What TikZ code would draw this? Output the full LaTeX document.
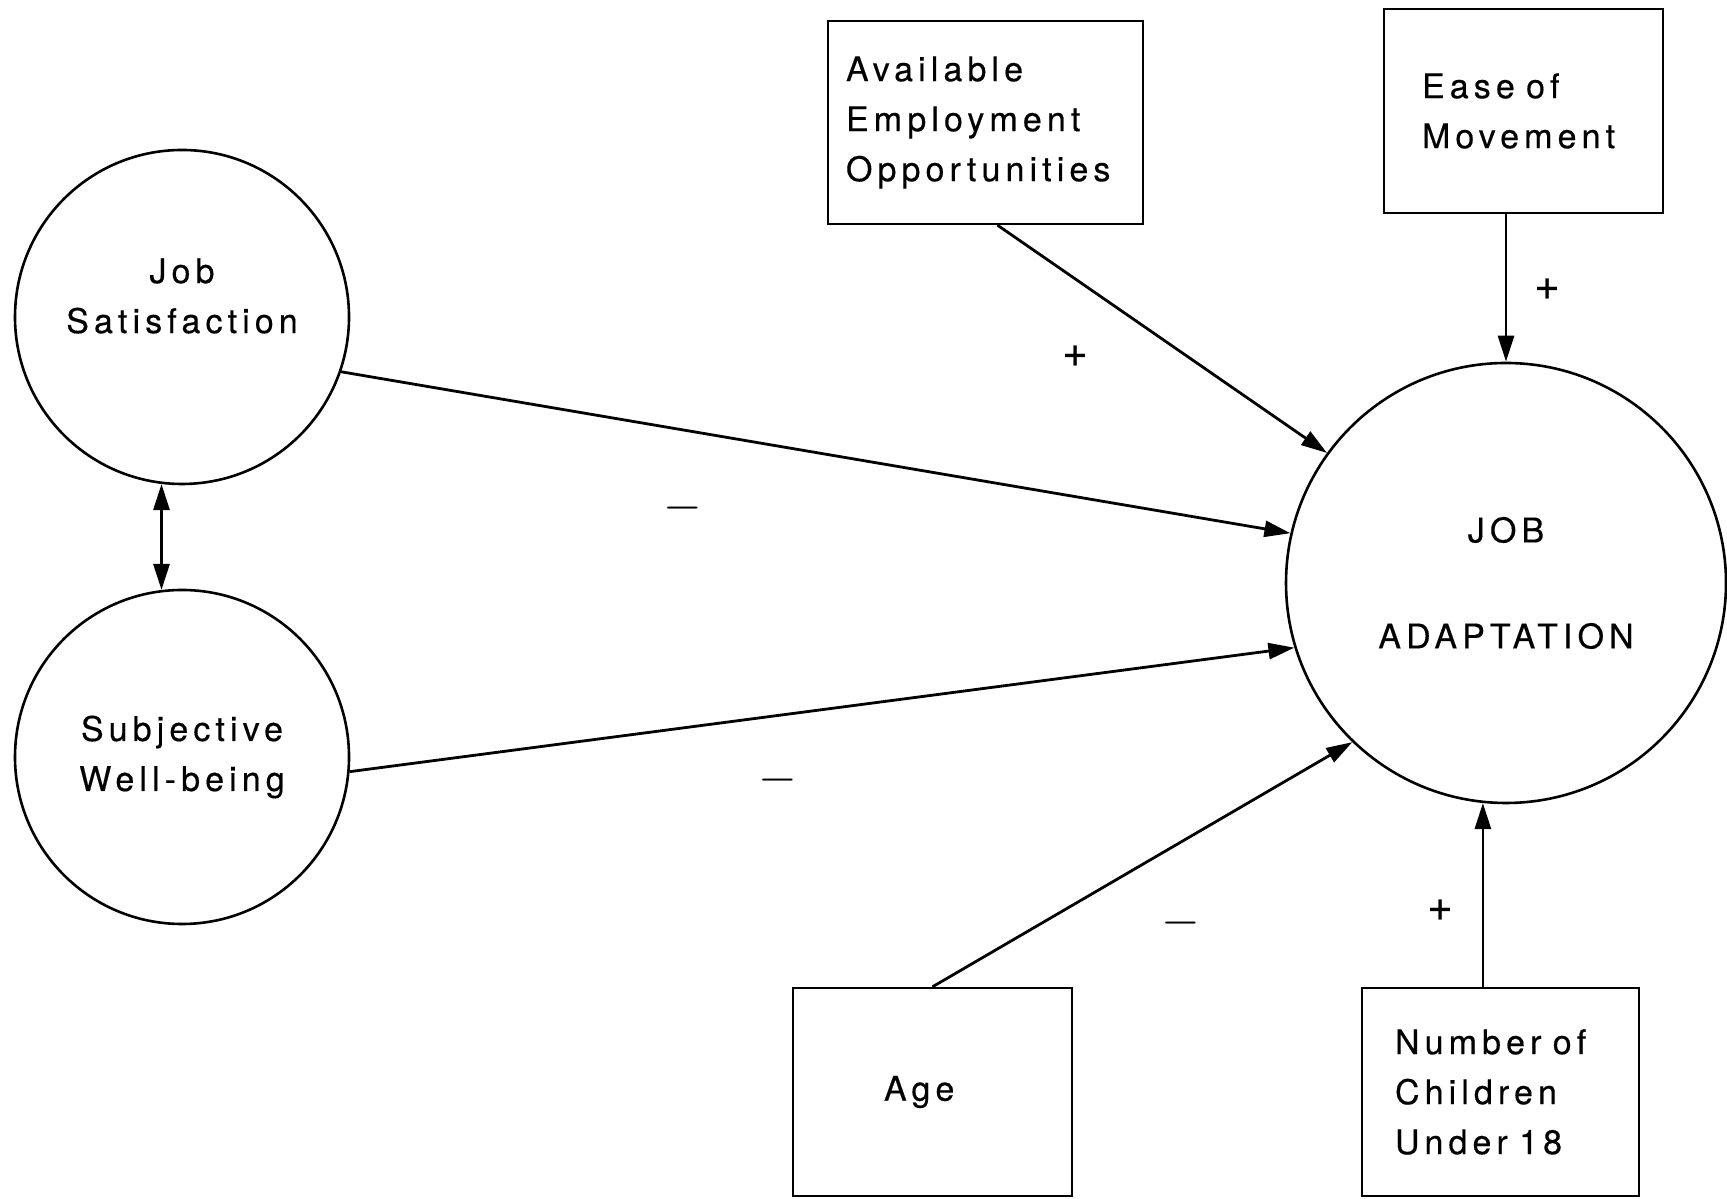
\documentclass[tikz,border=0pt]{standalone}
\usepackage{fontspec}
\setmainfont{TeX Gyre Heros}[LetterSpace=15, FakeBold=0.4]
\usetikzlibrary{arrows.meta, calc}

\tikzset{
    construct/.style={circle, draw, line width=1.3pt, minimum size=167pt, inner sep=0pt, align=center},
    measure/.style={rectangle, draw, line width=1.2pt, inner ysep=0pt},
    effect/.style={line width=1.4pt, ->},
    plus/.style={inner sep=0pt, font=\fontsize{22}{22}\selectfont},
    minus/.style={inner sep=0pt, font=\fontsize{28}{28}\selectfont},
}

\begin{document}
\begin{tikzpicture}[x=0.5pt, y=0.5pt, font=\fontsize{17}{25}\selectfont,
    >={Triangle[length=13pt, width=8pt]}]

    \useasboundingbox (0,0) rectangle (1727,1198);

    % latent constructs
    \node[construct] (js) at (182,881) {};
    \node[align=center] (jsText) at (182,902) {Job\\Satisfaction};
    \node[construct] (sw) at (182,441) {Subjective\\Well-being};
    \node[construct, minimum size=220pt] (ja) at (1506,615) {JOB\\[28pt]ADAPTATION};

    % observed variables
    \node[measure, minimum height=101.5pt, text width=139.5pt, inner xsep=9pt, align=left] (aeo) at (985.5,1075.5) {Available\\Employment\\Opportunities};
    \node[measure, minimum height=102pt, text width=101.5pt, inner xsep=19pt, align=left] (eom) at (1523.5,1087) {Ease of\\Movement};
    \node[measure, minimum height=104pt, text width=48.5pt, inner xsep=45.5pt, align=left] (age) at (932.5,106) {Age};
    \node[measure, minimum height=104pt, text width=105.5pt, inner xsep=16.5pt, align=left] (noc) at (1500.5,106) {Number of\\Children\\Under 18};

    % paths
    \draw[effect, <->] (js.-97) -- (sw.97);
    \draw[effect] (js.-19) -- (ja.167);
    \draw[effect] (sw.-5) -- (ja.-163);
    \draw[effect] ($(aeo.south)+(12,0)$) -- (ja.144);
    \draw[effect] (ja.north |- eom.south) -- (ja.north);
    \draw[effect] (age.north) -- (ja.-134);
    \draw[effect] (ja.-96 |- noc.north) -- (ja.-96);

    % signs
    \node[plus] (plusAeo) at (1075,842) {+};
    \node[plus] (plusEom) at (1547,909) {+};
    \node[minus] (minusJs) at (683,690) {$-$};
    \node[minus] (minusSw) at (778,418) {$-$};
    \node[minus] (minusAge) at (1181,275) {$-$};
    \node[plus] (plusNoc) at (1440,288) {+};
\end{tikzpicture}
\end{document}
